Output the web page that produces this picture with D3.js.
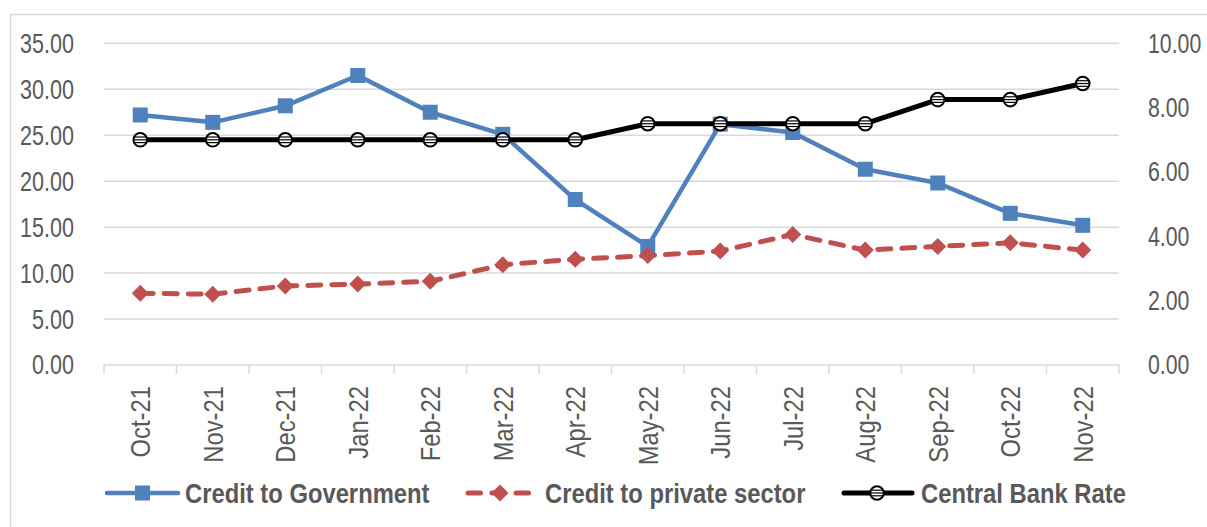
<!DOCTYPE html>
<html>
<head>
<meta charset="utf-8">
<script src="https://cdn.jsdelivr.net/npm/d3@7"></script>
<style>
  body { margin: 0; background: #fff; }
  text { font-family: "Liberation Sans", Arial, sans-serif; fill: #595959; }
</style>
</head>
<body>
<svg id="chart" width="1207" height="527"></svg>
<script>
// data
var months = ["Oct-21", "Nov-21", "Dec-21", "Jan-22", "Feb-22", "Mar-22", "Apr-22",
              "May-22", "Jun-22", "Jul-22", "Aug-22", "Sep-22", "Oct-22", "Nov-22"];
var govCredit  = [27.2, 26.4, 28.2, 31.5, 27.5, 25.1, 18.0, 12.9, 26.2, 25.3, 21.3, 19.8, 16.5, 15.2];
var privCredit = [7.8, 7.7, 8.6, 8.8, 9.1, 10.9, 11.5, 11.9, 12.4, 14.2, 12.5, 12.9, 13.3, 12.5];
var cbRate     = [7.0, 7.0, 7.0, 7.0, 7.0, 7.0, 7.0, 7.5, 7.5, 7.5, 7.5, 8.25, 8.25, 8.75];
var leftTicks  = [0, 5, 10, 15, 20, 25, 30, 35];
var rightTicks = [0, 2, 4, 6, 8, 10];
var seriesNames = ["Credit to Government", "Credit to private sector", "Central Bank Rate"];

var blue = "#4f81bd", red = "#c0504d", grid = "#d9d9d9";
var plotL = 104, plotR = 1119, plotT = 43.3, plotB = 365;

var svg = d3.select("#chart");

// outer chart border
svg.append("rect")
  .attr("x", 10.5).attr("y", 14.5)
  .attr("width", 1300).attr("height", 600)
  .attr("fill", "none").attr("stroke", grid).attr("stroke-width", 1.5);

var x = d3.scaleBand().domain(months).range([plotL, plotR]);
var yL = d3.scaleLinear().domain([0, 35]).range([plotB, plotT]);
var yR = d3.scaleLinear().domain([0, 10]).range([plotB, plotT]);
var cx = function(d, i) { return x(months[i]) + x.bandwidth() / 2; };

// gridlines
svg.append("g").selectAll("line")
  .data(leftTicks.filter(function(d) { return d > 0; }))
  .enter().append("line")
  .attr("x1", plotL).attr("x2", plotR)
  .attr("y1", function(d) { return yL(d); })
  .attr("y2", function(d) { return yL(d); })
  .attr("stroke", grid).attr("stroke-width", 1.5);

// left axis
var gL = svg.append("g")
  .attr("transform", "translate(" + plotL + ",0)")
  .call(d3.axisLeft(yL).tickValues(leftTicks).tickFormat(d3.format(".2f")).tickSize(0));
gL.select(".domain").remove();
gL.selectAll("text")
  .attr("x", 0)
  .attr("fill", "#595959")
  .style("font-size", "28px")
  .attr("transform", "translate(-30,0) scale(0.77,1)");

// right axis
var gR = svg.append("g")
  .attr("transform", "translate(" + plotR + ",0)")
  .call(d3.axisRight(yR).tickValues(rightTicks).tickFormat(d3.format(".2f")).tickSize(0));
gR.select(".domain").remove();
gR.selectAll("text")
  .attr("x", 0)
  .attr("fill", "#595959")
  .style("font-size", "28px")
  .attr("transform", "translate(29,0) scale(0.76,1)");

// x axis line + boundary ticks
var gx = svg.append("g");
gx.append("line")
  .attr("x1", plotL).attr("x2", plotR)
  .attr("y1", plotB).attr("y2", plotB)
  .attr("stroke", grid).attr("stroke-width", 1.5);
gx.selectAll("line.tk")
  .data(months.map(function(m) { return x(m); }).concat([plotR]))
  .enter().append("line").attr("class", "tk")
  .attr("x1", function(d) { return d; }).attr("x2", function(d) { return d; })
  .attr("y1", plotB).attr("y2", plotB + 9)
  .attr("stroke", grid).attr("stroke-width", 1.5);
gx.selectAll("text")
  .data(months)
  .enter().append("text")
  .attr("transform", function(d) {
    return "translate(" + (x(d) + x.bandwidth() / 2) + "," + (plotB + 21) + ") rotate(-90) scale(0.85,1)";
  })
  .attr("text-anchor", "end")
  .attr("dy", "0.35em")
  .style("font-size", "28px")
  .text(function(d) { return d; });

// lines
var lineL = d3.line().x(cx).y(function(d) { return yL(d); });
var lineR = d3.line().x(cx).y(function(d) { return yR(d); });

function square(g, px, py) {
  g.append("rect").attr("x", px - 7.5).attr("y", py - 7.5)
    .attr("width", 15).attr("height", 15).attr("fill", blue);
}
function diamond(g, px, py) {
  var s = 8.5;
  g.append("path")
    .attr("d", "M" + px + "," + (py - s) + "L" + (px + s) + "," + py +
               "L" + px + "," + (py + s) + "L" + (px - s) + "," + py + "Z")
    .attr("fill", red);
}
function ring(g, px, py) {
  var r = 6.8;
  g.append("circle").attr("cx", px).attr("cy", py).attr("r", r)
    .attr("fill", "#fff").attr("stroke", "#000").attr("stroke-width", 2);
  [-2.8, 0, 2.8].forEach(function(dy) {
    var hw = Math.sqrt(r * r - dy * dy) - 0.5;
    g.append("line").attr("x1", px - hw).attr("x2", px + hw)
      .attr("y1", py + dy).attr("y2", py + dy)
      .attr("stroke", "#000").attr("stroke-width", 1.2);
  });
}

// Credit to Government
var gGov = svg.append("g");
gGov.append("path").datum(govCredit).attr("d", lineL)
  .attr("fill", "none").attr("stroke", blue).attr("stroke-width", 4.5)
  .attr("stroke-linejoin", "round");
govCredit.forEach(function(d, i) { square(gGov, cx(d, i), yL(d)); });

// Credit to private sector
var gPriv = svg.append("g");
gPriv.append("path").datum(privCredit).attr("d", lineL)
  .attr("fill", "none").attr("stroke", red).attr("stroke-width", 5)
  .attr("stroke-dasharray", "13,11").attr("stroke-linecap", "round");
privCredit.forEach(function(d, i) { diamond(gPriv, cx(d, i), yL(d)); });

// Central Bank Rate (right axis)
var gCb = svg.append("g");
gCb.append("path").datum(cbRate).attr("d", lineR)
  .attr("fill", "none").attr("stroke", "#000").attr("stroke-width", 5)
  .attr("stroke-linejoin", "round");
cbRate.forEach(function(d, i) { ring(gCb, cx(d, i), yR(d)); });

// legend
var ly = 493;
var leg = svg.append("g");
leg.append("line").attr("x1", 107).attr("x2", 178).attr("y1", ly).attr("y2", ly)
  .attr("stroke", blue).attr("stroke-width", 4.5).attr("stroke-linecap", "round");
square(leg, 142.5, ly);
leg.append("line").attr("x1", 468).attr("x2", 531).attr("y1", ly).attr("y2", ly)
  .attr("stroke", red).attr("stroke-width", 5).attr("stroke-linecap", "round")
  .attr("stroke-dasharray", "12.5,11.5");
diamond(leg, 500, ly);
leg.append("line").attr("x1", 844).attr("x2", 912).attr("y1", ly).attr("y2", ly)
  .attr("stroke", "#000").attr("stroke-width", 5).attr("stroke-linecap", "round");
ring(leg, 877, ly);

var legX = [185, 545, 921];
leg.selectAll("text")
  .data(seriesNames)
  .enter().append("text")
  .attr("transform", function(d, i) { return "translate(" + legX[i] + "," + ly + ") scale(0.85,1)"; })
  .attr("dy", "0.36em")
  .style("font-size", "28px")
  .style("font-weight", "bold")
  .text(function(d) { return d; });
</script>
</body>
</html>
